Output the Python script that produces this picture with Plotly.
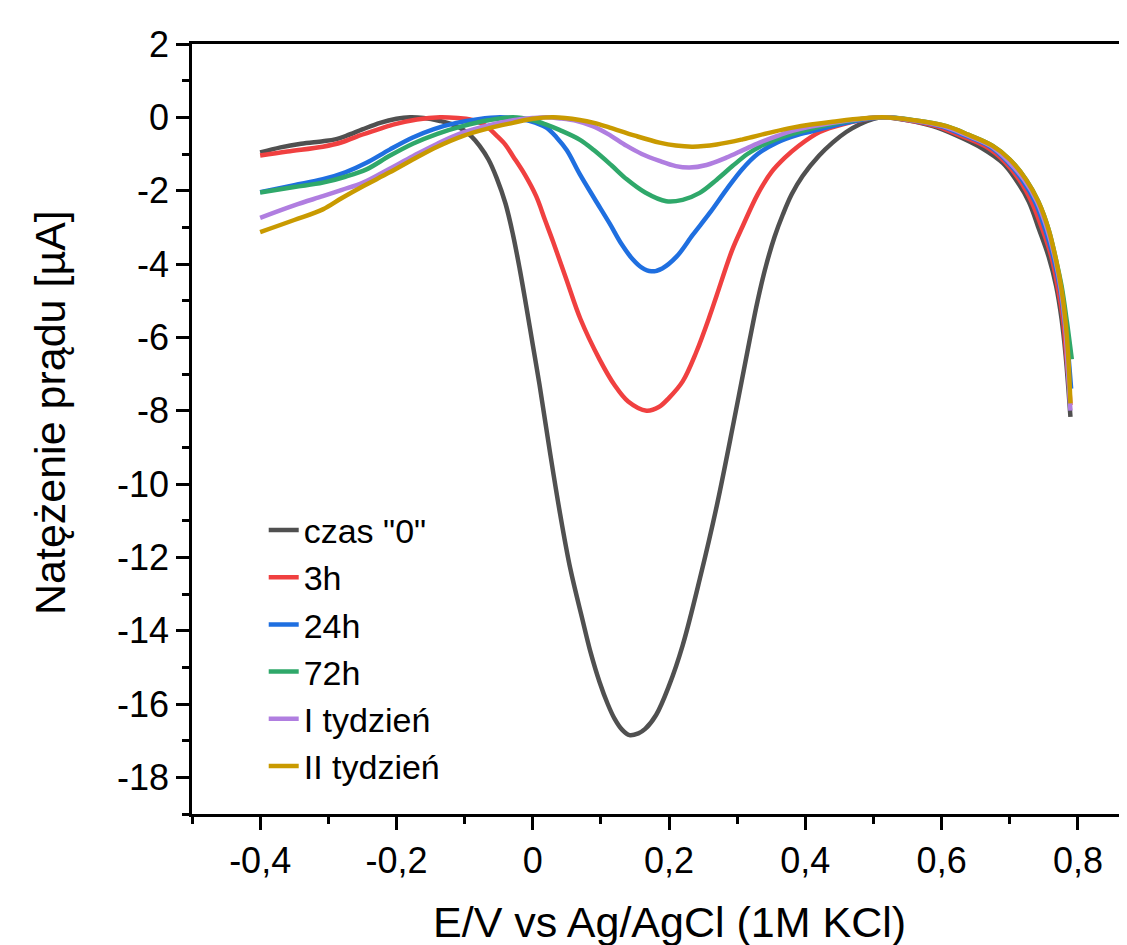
import plotly.graph_objects as go

# ---------------- data ----------------
series_names = ['czas "0"', "3h", "24h", "72h", "I tydzień", "II tydzień"]

x_czas0 = [-0.4, -0.37, -0.34, -0.308, -0.29, -0.273, -0.25, -0.224, -0.2, -0.18,
           -0.16, -0.136, -0.12, -0.103, -0.09, -0.078, -0.065, -0.053, -0.04, -0.029,
           -0.019, -0.01, 0.0, 0.01, 0.025, 0.04, 0.055, 0.073, 0.085, 0.098, 0.11,
           0.12, 0.131, 0.142, 0.155, 0.165, 0.181, 0.2, 0.22, 0.245, 0.27, 0.295,
           0.318, 0.33, 0.343, 0.355, 0.367, 0.38, 0.396, 0.42, 0.44, 0.46, 0.48,
           0.5, 0.513, 0.55, 0.587, 0.62, 0.66, 0.69, 0.709, 0.728, 0.743, 0.757,
           0.768, 0.776, 0.782, 0.786, 0.789]
y_czas0 = [-0.96, -0.82, -0.72, -0.65, -0.6, -0.5, -0.33, -0.15, -0.04, 0.0,
           -0.02, -0.1, -0.18, -0.33, -0.52, -0.78, -1.15, -1.65, -2.35, -3.2,
           -4.15, -5.1, -6.2, -7.3, -9.1, -10.8, -12.3, -13.7, -14.6, -15.4, -16.0,
           -16.4, -16.7, -16.85, -16.8, -16.68, -16.3, -15.5, -14.4, -12.6, -10.6, -8.3,
           -6.1, -5.0, -4.0, -3.25, -2.65, -2.1, -1.6, -1.05, -0.69, -0.4, -0.19,
           -0.04, 0.0, -0.08, -0.24, -0.48, -0.85, -1.25, -1.7, -2.3, -3.06, -3.8,
           -4.6, -5.5, -6.5, -7.4, -8.17]

x_3h = [-0.4, -0.36, -0.308, -0.28, -0.259, -0.23, -0.205, -0.17, -0.136, -0.11,
        -0.092, -0.07, -0.053, -0.04, -0.029, -0.012, 0.005, 0.018, 0.03, 0.049,
        0.07, 0.098, 0.12, 0.14, 0.167, 0.185, 0.2, 0.22, 0.24, 0.26, 0.27, 0.293,
        0.308, 0.33, 0.35, 0.37, 0.39, 0.421, 0.455, 0.513, 0.55, 0.592, 0.625,
        0.665, 0.692, 0.714, 0.732, 0.748, 0.761, 0.77, 0.778, 0.783, 0.787, 0.789]
y_3h = [-1.04, -0.93, -0.8, -0.68, -0.53, -0.35, -0.2, -0.06, 0.0, -0.02,
        -0.06, -0.22, -0.5, -0.75, -1.06, -1.55, -2.15, -2.8, -3.4, -4.4,
        -5.5, -6.6, -7.3, -7.75, -8.0, -7.9, -7.65, -7.2, -6.4, -5.4, -4.85, -3.6,
        -2.97, -2.1, -1.5, -1.1, -0.78, -0.4, -0.19, 0.0, -0.08, -0.24, -0.48,
        -0.8, -1.2, -1.7, -2.3, -3.06, -3.8, -4.6, -5.5, -6.5, -7.3, -7.85]

x_24h = [-0.4, -0.35, -0.308, -0.275, -0.244, -0.21, -0.176, -0.145, -0.112, -0.08,
         -0.048, -0.025, -0.004, 0.02, 0.035, 0.05, 0.069, 0.09, 0.113, 0.13, 0.147,
         0.16, 0.174, 0.19, 0.211, 0.235, 0.26, 0.285, 0.308, 0.33, 0.358, 0.39,
         0.421, 0.46, 0.513, 0.555, 0.598, 0.632, 0.669, 0.696, 0.718, 0.737, 0.752,
         0.765, 0.773, 0.78, 0.786, 0.79]
y_24h = [-2.04, -1.85, -1.69, -1.5, -1.24, -0.88, -0.55, -0.32, -0.15, -0.05,
         0.0, -0.03, -0.1, -0.28, -0.55, -0.9, -1.55, -2.2, -2.9, -3.45, -3.88,
         -4.1, -4.2, -4.12, -3.8, -3.2, -2.6, -1.95, -1.4, -1.0, -0.69, -0.47,
         -0.33, -0.15, 0.0, -0.08, -0.24, -0.48, -0.78, -1.2, -1.7, -2.3, -3.06,
         -3.9, -4.6, -5.5, -6.5, -7.4]

x_72h = [-0.4, -0.35, -0.308, -0.275, -0.244, -0.21, -0.176, -0.14, -0.103, -0.065,
         -0.029, 0.0, 0.02, 0.04, 0.07, 0.09, 0.115, 0.138, 0.165, 0.196, 0.22,
         0.245, 0.27, 0.293, 0.315, 0.333, 0.36, 0.381, 0.44, 0.513, 0.56, 0.607,
         0.64, 0.675, 0.7, 0.724, 0.742, 0.757, 0.768, 0.776, 0.784, 0.791]
y_72h = [-2.05, -1.9, -1.78, -1.62, -1.42, -1.05, -0.72, -0.45, -0.24, -0.08,
         0.0, -0.08, -0.2, -0.35, -0.62, -0.9, -1.3, -1.69, -2.05, -2.29, -2.25,
         -2.06, -1.7, -1.33, -1.0, -0.8, -0.58, -0.45, -0.18, 0.0, -0.08, -0.24,
         -0.48, -0.78, -1.15, -1.7, -2.3, -3.06, -3.9, -4.6, -5.6, -6.6]

x_1tydz = [-0.4, -0.35, -0.308, -0.28, -0.249, -0.21, -0.176, -0.14, -0.103, -0.065,
           -0.029, 0.0, 0.02, 0.04, 0.065, 0.088, 0.11, 0.138, 0.16, 0.186, 0.21,
           0.23, 0.255, 0.284, 0.31, 0.333, 0.36, 0.381, 0.44, 0.513, 0.556, 0.602,
           0.636, 0.672, 0.698, 0.721, 0.74, 0.755, 0.767, 0.775, 0.781, 0.785, 0.789]
y_1tydz = [-2.74, -2.4, -2.15, -1.98, -1.78, -1.4, -1.06, -0.72, -0.42, -0.22,
           -0.08, -0.02, 0.0, -0.03, -0.1, -0.24, -0.45, -0.78, -1.0, -1.19, -1.33,
           -1.37, -1.3, -1.1, -0.88, -0.69, -0.5, -0.37, -0.15, 0.0, -0.08, -0.24,
           -0.48, -0.78, -1.2, -1.7, -2.3, -3.06, -3.9, -4.7, -5.6, -6.8, -8.0]

x_2tydz = [-0.4, -0.35, -0.308, -0.28, -0.249, -0.21, -0.176, -0.14, -0.103, -0.065,
           -0.029, 0.0, 0.03, 0.069, 0.09, 0.113, 0.15, 0.186, 0.21, 0.235, 0.27,
           0.308, 0.345, 0.381, 0.44, 0.513, 0.56, 0.607, 0.64, 0.675, 0.7, 0.724,
           0.742, 0.757, 0.768, 0.776, 0.782, 0.786, 0.789]
y_2tydz = [-3.13, -2.8, -2.51, -2.2, -1.88, -1.5, -1.15, -0.8, -0.51, -0.3,
           -0.15, -0.04, 0.0, -0.07, -0.15, -0.28, -0.5, -0.69, -0.77, -0.8, -0.74,
           -0.6, -0.43, -0.28, -0.12, 0.0, -0.08, -0.24, -0.48, -0.78, -1.15, -1.7,
           -2.3, -3.06, -3.9, -4.7, -5.6, -6.6, -7.8]

colors = ["#505050", "#f04040", "#1f6fe0", "#2fa86a", "#b07ee0", "#c99a00"]

x_tickvals = [-0.4, -0.2, 0, 0.2, 0.4, 0.6, 0.8]
x_ticktext = ["-0,4", "-0,2", "0", "0,2", "0,4", "0,6", "0,8"]
y_tickvals = [2, 0, -2, -4, -6, -8, -10, -12, -14, -16, -18]
y_ticktext = ["2", "0", "-2", "-4", "-6", "-8", "-10", "-12", "-14", "-16", "-18"]

x_title = "E/V vs Ag/AgCl (1M KCl)"
y_title = "Natężenie prądu [µA]"

xs = [x_czas0, x_3h, x_24h, x_72h, x_1tydz, x_2tydz]
ys = [y_czas0, y_3h, y_24h, y_72h, y_1tydz, y_2tydz]

FONT = "Liberation Sans, Arial, sans-serif"

fig = go.Figure()
for name, xv, yv, c in zip(series_names, xs, ys, colors):
    fig.add_trace(go.Scatter(
        x=xv, y=yv, name=name, mode="lines",
        line=dict(color=c, width=4.5, shape="spline", smoothing=1.0),
    ))

axis_common = dict(
    showgrid=False, zeroline=False, automargin=False,
    showline=True, linecolor="black", linewidth=2.5,
    ticks="outside", tickcolor="black", tickwidth=2.5, ticklen=13,
    tickfont=dict(family=FONT, size=36, color="black"),
)

fig.update_layout(
    # the page body has an 8 px margin, so the figure is sized to end at the window edge
    width=1119, height=937,
    margin=dict(l=184, r=0, t=36, b=131),
    paper_bgcolor="white", plot_bgcolor="white",
    font=dict(family=FONT, color="black"),
    showlegend=True,
    legend=dict(
        x=0.0767, y=0.406, xanchor="left", yanchor="top",
        bgcolor="rgba(0,0,0,0)", borderwidth=0,
        font=dict(family=FONT, size=34, color="black"),
        itemwidth=30, tracegroupgap=0,
    ),
    xaxis=dict(
        range=[-0.5, 0.872], mirror=True,
        tickvals=x_tickvals, ticktext=x_ticktext,
        minor=dict(dtick=0.1, tick0=-0.5, ticks="outside", ticklen=7,
                   tickwidth=2.5, tickcolor="black"),
        **axis_common,
    ),
    yaxis=dict(
        range=[-19, 2], mirror=False,
        tickvals=y_tickvals, ticktext=y_ticktext,
        minor=dict(dtick=1, tick0=-19, ticks="outside", ticklen=7,
                   tickwidth=2.5, tickcolor="black"),
        **axis_common,
    ),
    annotations=[
        dict(text=x_title, xref="paper", yref="paper", x=0.511, y=-0.1065,
             xanchor="center", yanchor="top", showarrow=False,
             font=dict(family=FONT, size=43, color="black")),
        dict(text=y_title, xref="paper", yref="paper", x=-0.1519, y=0.522,
             xanchor="center", yanchor="middle", showarrow=False, textangle=-90,
             font=dict(family=FONT, size=43, color="black")),
    ],
)

fig.write_html("out.html")
